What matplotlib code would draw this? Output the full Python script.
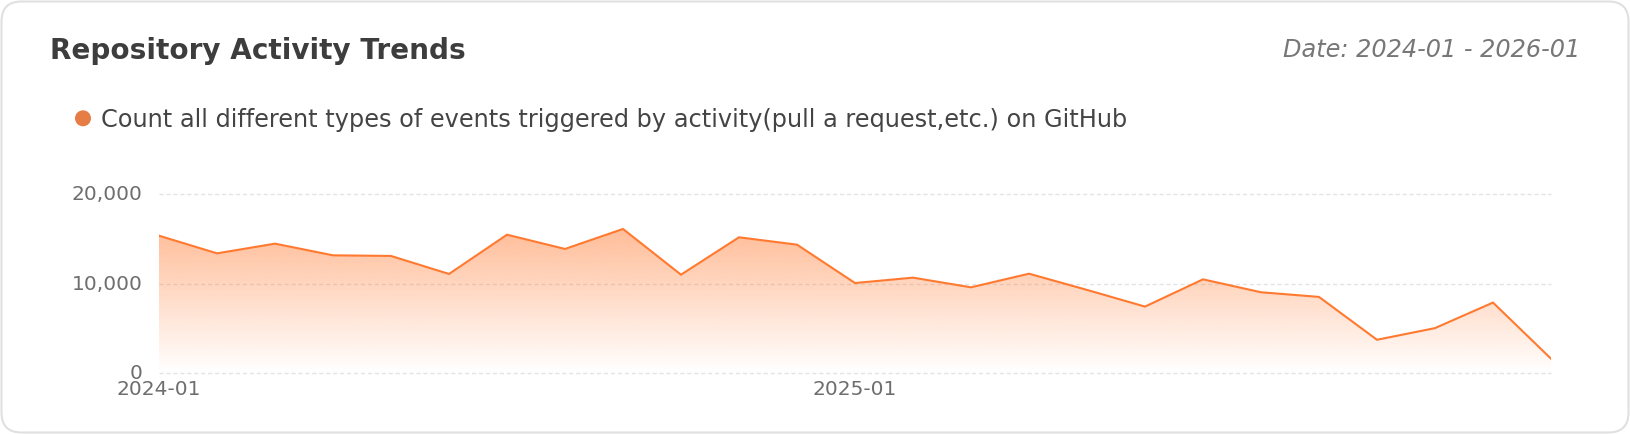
import matplotlib
matplotlib.use("Agg")
import matplotlib.pyplot as plt
import matplotlib.transforms as mtransforms
import numpy as np
from matplotlib.patches import FancyBboxPatch, Polygon, Circle

# ---- data ----
months = ["2024-01", "2024-02", "2024-03", "2024-04", "2024-05", "2024-06",
          "2024-07", "2024-08", "2024-09", "2024-10", "2024-11", "2024-12",
          "2025-01", "2025-02", "2025-03", "2025-04", "2025-05", "2025-06",
          "2025-07", "2025-08", "2025-09", "2025-10", "2025-11", "2025-12",
          "2026-01"]
events = [15350, 13380, 14460, 13160, 13090, 11080, 15460, 13870, 16100,
          11000, 15170, 14350, 10070, 10670, 9590, 11110, 9300, 7440,
          10480, 9040, 8520, 3740, 5040, 7890, 1630]
shown_ticks = ["2024-01", "2025-01"]
y_ticks = [0, 10000, 20000]
y_tick_labels = ["0", "10,000", "20,000"]

title = "Repository Activity Trends"
date_text = "Date: 2024-01 - 2026-01"
legend_text = ("Count all different types of events triggered by "
               "activity(pull a request,etc.) on GitHub")

W, H = 1630, 434
LINE = "#FF7A30"
fig = plt.figure(figsize=(W / 100, H / 100), dpi=100)
fig.patch.set_facecolor("white")

# background / card axes in pixel coordinates
bg = fig.add_axes([0, 0, 1, 1])
bg.set_xlim(0, W)
bg.set_ylim(H, 0)
bg.axis("off")
card = FancyBboxPatch((1.5, 1.5), W - 3, H - 3,
                      boxstyle="round,pad=0,rounding_size=20",
                      fc="white", ec="#e0e0e0", lw=1.5)
bg.add_patch(card)

t_title = bg.text(50, 59.3, title, fontsize=15, fontweight="bold",
                  color="#3d3d3d", ha="left", va="baseline")
t_date = bg.text(1580, 56.7, date_text, fontsize=13, style="italic",
                 color="#777777", ha="right", va="baseline")
t_leg = bg.text(101, 126.5, legend_text, fontsize=17, color="#444444",
                ha="left", va="baseline")
bg.add_patch(Circle((83, 118.3), 8, color="#E67D45", lw=0))

fig.canvas.draw()
for t, target in ((t_title, 417), (t_date, 297), (t_leg, 1028)):
    w = t.get_window_extent().width
    t.set_fontsize(t.get_fontsize() * target / w)

# main plot axes
left, right = 159, 1551
y0, y20 = 373.3, 194
ax = fig.add_axes([left / W, (H - y0) / H, (right - left) / W, (y0 - y20) / H])
ax.set_facecolor("none")
x = np.arange(len(months))
vals = np.array(events, dtype=float)

# gradient fill
ymax = vals.max()
grad = np.zeros((256, 1, 4))
rgb = matplotlib.colors.to_rgb(LINE)
grad[:, 0, 0], grad[:, 0, 1], grad[:, 0, 2] = rgb
grad[:, 0, 3] = np.linspace(0.0, 0.5, 256)
im = ax.imshow(grad, extent=[x[0], x[-1], 0, ymax], origin="lower",
               aspect="auto", interpolation="bilinear", zorder=1)
verts = np.vstack([np.column_stack([x, vals]), [[x[-1], 0], [x[0], 0]]])
poly = Polygon(verts, closed=True, fc="none", ec="none")
ax.add_patch(poly)
im.set_clip_path(poly)

ax.plot(x, vals, color=LINE, lw=1.5, zorder=3, solid_joinstyle="miter")

ax.set_xlim(x[0], x[-1])
ax.set_ylim(0, 20000)
ax.set_yticks(y_ticks)
ax.set_yticklabels(y_tick_labels)
ax.set_xticks([months.index(m) for m in shown_ticks])
ax.set_xticklabels(shown_ticks)
ax.tick_params(axis="y", length=0, pad=12, labelsize=14.5, labelcolor="#6e6e6e")
ax.tick_params(axis="x", length=0, pad=4.8, labelsize=14.5, labelcolor="#6e6e6e")
for s in ax.spines.values():
    s.set_visible(False)
ax.yaxis.grid(True, color="#e3e3e3", lw=1, linestyle=(0, (3, 2)), zorder=0)
ax.xaxis.grid(False)
ax.set_axisbelow(True)
for gl in ax.get_ygridlines():
    gl.set_clip_on(False)

up = mtransforms.ScaledTranslation(0, 1.5 / 100, fig.dpi_scale_trans)
for lab in ax.get_yticklabels():
    lab.set_transform(lab.get_transform() + up)

fig.savefig("out.png", dpi=100, facecolor="white")
